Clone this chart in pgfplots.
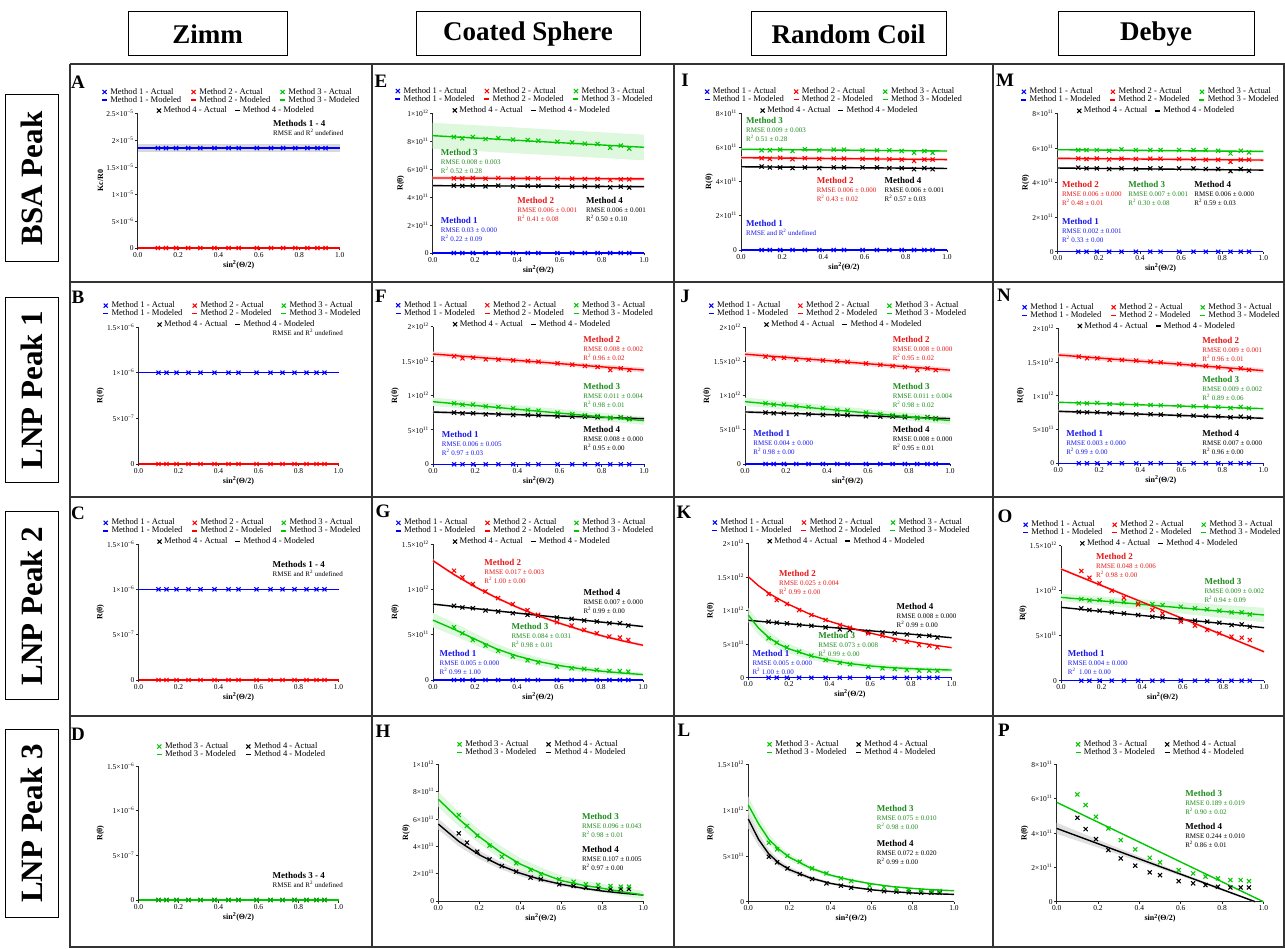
\documentclass[border=0pt]{standalone}
\usepackage{fontspec}
\setmainfont{Liberation Serif}
\usepackage{pgfplots}
\pgfplotsset{compat=1.18}
\usepackage{pgfplotstable}

\definecolor{c1}{RGB}{0,0,255}
\definecolor{c2}{RGB}{255,0,0}
\definecolor{c3}{RGB}{0,200,0}
\definecolor{c4}{RGB}{0,0,0}
\definecolor{t1}{RGB}{25,25,235}
\definecolor{t2}{RGB}{230,25,25}
\definecolor{t3}{RGB}{30,140,30}

\pgfplotsset{legend image code/.code={\draw[mark repeat=2,mark phase=2,#1] plot coordinates {(1pt,0pt) (3.5pt,0pt) (6pt,0pt)};}}

\pgfplotsset{
 geom/.style n args={4}{at={(#1pt,948pt-#2pt)}, anchor=south west, width=#3pt, height=#4pt},
 mk/.style={only marks, mark=x, mark size=2.9pt, mark options={line width=1.05pt}},
 ln/.style={line width=1.4pt},
 base/.style={
  scale only axis,
  xmin=0, xmax=1, ymin=0,
  axis lines=left,
  axis line style={-, line width=1pt, black!85},
  xtick={0,0.2,0.4,0.6,0.8,1}, xticklabels={0.0,0.2,0.4,0.6,0.8,1.0},
  tick align=outside, major tick length=2.5pt,
  tick style={line width=0.8pt, black!85},
  ticklabel style={font=\fontsize{7.5}{8}\selectfont, inner sep=1.5pt},
  xlabel={sin\textsuperscript{2}(Θ/2)},
  ylabel={R(θ)},
  label style={font=\bfseries\fontsize{8}{9}\selectfont},
  xlabel style={yshift=2pt},
  ylabel style={yshift=-2pt},
  clip=false,
  legend cell align=left,
  legend style={draw=none, fill=none, inner sep=0pt, outer sep=0pt,
    font=\fontsize{8.6}{8.6}\selectfont,
    nodes={inner sep=0.1pt, text height=6pt, text depth=1.8pt},
    /tikz/every odd column/.append style={column sep=2.5pt},
    /tikz/every even column/.append style={column sep=9pt}},
 },
 leg3/.style={legend columns=3, legend style={at={(-0.18,1.185)}, anchor=north west}},
 leg2/.style={legend columns=2, legend style={at={(0.088,1.175)}, anchor=north west}},
 ya/.style={ymax=2.5, ytick={0,0.5,1,1.5,2,2.5}, yticklabels={0,5×10\textsuperscript{−6},1×10\textsuperscript{−5},1.5×10\textsuperscript{−5},2×10\textsuperscript{−5},2.5×10\textsuperscript{−5}}},
 yb/.style={ymax=1.5, ytick={0,0.5,1,1.5}, yticklabels={0,5×10\textsuperscript{−7},1×10\textsuperscript{−6},1.5×10\textsuperscript{−6}}},
 yten/.style={ymax=10, ytick={0,2,4,6,8,10}, yticklabels={0,2×10\textsuperscript{11},4×10\textsuperscript{11},6×10\textsuperscript{11},8×10\textsuperscript{11},1×10\textsuperscript{12}}},
 yeight/.style={ymax=8, ytick={0,2,4,6,8}, yticklabels={0,2×10\textsuperscript{11},4×10\textsuperscript{11},6×10\textsuperscript{11},8×10\textsuperscript{11}}},
 ytwo/.style={ymax=2, ytick={0,0.5,1,1.5,2}, yticklabels={0,5×10\textsuperscript{11},1×10\textsuperscript{12},1.5×10\textsuperscript{12},2×10\textsuperscript{12}}},
 yonefive/.style={ymax=1.5, ytick={0,0.5,1,1.5}, yticklabels={0,5×10\textsuperscript{11},1×10\textsuperscript{12},1.5×10\textsuperscript{12}}},
}

\newcommand{\pts}[3]{\addplot[mk, #3, forget plot] table[x=x,y=#2]{#1};}
\newcommand{\mdl}[3]{\addplot[#3, line width=1.4pt, forget plot] table[x=x,y=#2]{#1};}
\newcommand{\poly}[2]{\addplot[fill=#1, draw=none, forget plot] coordinates {#2} -- cycle;}
\newcommand{\ann}[6]{\node[anchor=north west, align=left, inner sep=0pt, text=#3, font=\fontsize{7}{9}\selectfont] at (axis cs:#1,#2) {{\bfseries\fontsize{9}{9}\selectfont #4}\\#5\\#6};}
\newcommand{\annb}[5]{\node[anchor=north west, align=left, inner sep=0pt, text=#3, font=\fontsize{7}{9}\selectfont] at (axis cs:#1,#2) {{\bfseries\fontsize{9}{9}\selectfont #4}\\#5};}
\newcommand{\legthree}{%
 \addlegendimage{mk,c1}\addlegendentry{Method 1 - Actual}
 \addlegendimage{mk,c2}\addlegendentry{Method 2 - Actual}
 \addlegendimage{mk,c3}\addlegendentry{Method 3 - Actual}
 \addlegendimage{ln,c1}\addlegendentry{Method 1 - Modeled}
 \addlegendimage{ln,c2}\addlegendentry{Method 2 - Modeled}
 \addlegendimage{ln,c3}\addlegendentry{Method 3 - Modeled}}
\newcommand{\legtwo}{%
 \addlegendimage{mk,c3}\addlegendentry{Method 3 - Actual}
 \addlegendimage{mk,c4}\addlegendentry{Method 4 - Actual}
 \addlegendimage{ln,c3}\addlegendentry{Method 3 - Modeled}
 \addlegendimage{ln,c4}\addlegendentry{Method 4 - Modeled}}
\newcommand{\rowthree}[4]{%
 \begin{axis}[base, geom={#1}{#2}{#3}{#4}, hide axis, ymax=1, legend columns=2,
   legend style={at={(0.095,1.047)}, anchor=north west, /tikz/every even column/.append style={column sep=7pt}}]
 \addplot[draw=none, forget plot] coordinates {(0,0) (1,1)};
 \addlegendimage{mk,c4}\addlegendentry{Method 4 - Actual}
 \addlegendimage{ln,c4}\addlegendentry{Method 4 - Modeled}
 \end{axis}}
\newcommand{\Rsq}{R\textsuperscript{2}}

% ---------------- data ----------------
\pgfplotstableread{
x m1 m2
0.10 1.85 0
0.14 1.85 0
0.19 1.85 0
0.25 1.85 0
0.31 1.85 0
0.38 1.85 0
0.45 1.85 0
0.50 1.85 0
0.59 1.85 0
0.66 1.85 0
0.72 1.85 0
0.78 1.85 0
0.84 1.85 0
0.89 1.85 0
0.93 1.85 0
}\Ad
\pgfplotstableread{
x m1 m2
0 1.85 0
1 1.85 0
}\Am
\pgfplotstableread{
x m1 m2
0.10 1 0
0.14 1 0
0.19 1 0
0.25 1 0
0.31 1 0
0.38 1 0
0.45 1 0
0.50 1 0
0.59 1 0
0.66 1 0
0.72 1 0
0.78 1 0
0.84 1 0
0.89 1 0
0.93 1 0
}\Bd
\pgfplotstableread{
x m1 m2
0 1 0
1 1 0
}\Bm
\pgfplotstableread{
x m1 m2 m3 m4
0.10 0 5.33 8.29 4.81
0.14 0 5.33 8.19 4.79
0.19 0 5.36 8.29 4.81
0.25 0 5.31 8.14 4.76
0.31 0 5.36 8.21 4.81
0.38 0 5.33 8.10 4.76
0.45 0 5.33 8.07 4.79
0.50 0 5.33 8.02 4.79
0.59 0 5.31 7.95 4.76
0.66 0 5.31 7.90 4.76
0.72 0 5.29 7.81 4.76
0.78 0 5.29 7.79 4.76
0.84 0 5.21 7.52 4.69
0.89 0 5.26 7.67 4.74
0.93 0 5.26 7.45 4.67
}\Ed
\pgfplotstableread{
x m1 m2 m3 m4
0 0 5.36 8.38 4.81
1 0 5.29 7.55 4.74
}\Em
\pgfplotstableread{
x m1 m2 m3 m4
0.10 0 1.569 0.886 0.751
0.14 0 1.540 0.867 0.741
0.19 0 1.550 0.867 0.741
0.25 0 1.525 0.843 0.726
0.31 0 1.521 0.833 0.726
0.38 0 1.511 0.814 0.717
0.45 0 1.501 0.789 0.717
0.50 0 1.492 0.780 0.712
0.59 0 1.467 0.751 0.697
0.66 0 1.448 0.731 0.692
0.72 0 1.429 0.712 0.692
0.78 0 1.414 0.702 0.683
0.84 0 1.370 0.673 0.673
0.89 0 1.395 0.683 0.683
0.93 0 1.370 0.654 0.663
}\Fd
\pgfplotstableread{
x m1 m2 m3 m4
0 0 1.603 0.910 0.760
1 0 1.370 0.634 0.663
}\Fm
\pgfplotstableread{
x m1 m2 m3 m4
0.10 0 1.205 0.582 0.818
0.14 0 1.132 0.516 0.800
0.19 0 1.058 0.442 0.792
0.25 0 0.977 0.380 0.767
0.31 0 0.903 0.321 0.756
0.38 0 0.837 0.258 0.737
0.45 0 0.770 0.217 0.719
0.50 0 0.719 0.195 0.711
0.59 0 0.638 0.147 0.689
0.66 0 0.601 0.129 0.675
0.72 0 0.553 0.122 0.656
0.78 0 0.516 0.111 0.645
0.84 0 0.479 0.100 0.627
0.89 0 0.468 0.100 0.627
0.93 0 0.442 0.092 0.601
}\Gd
\pgfplotstableread{
x m1 m2 m3 m4
0.0 0 1.316 0.660 0.837
0.1 0 1.163 0.560 0.812
0.2 0 1.028 0.450 0.788
0.3 0 0.909 0.345 0.763
0.4 0 0.803 0.265 0.738
0.5 0 0.710 0.205 0.714
0.6 0 0.628 0.160 0.689
0.7 0 0.555 0.125 0.664
0.8 0 0.490 0.098 0.639
0.9 0 0.433 0.077 0.615
1.0 0 0.383 0.060 0.590
}\Gm
\pgfplotstableread{
x m3 m4
0.10 6.29 4.95
0.14 5.49 4.27
0.19 4.78 3.61
0.25 4.05 3.05
0.31 3.24 2.56
0.38 2.76 2.15
0.45 2.27 1.71
0.50 1.95 1.59
0.59 1.59 1.22
0.66 1.41 1.10
0.72 1.22 0.98
0.78 1.17 0.93
0.84 1.10 0.88
0.89 1.05 0.88
0.93 1.05 0.88
}\Hd
\pgfplotstableread{
x m3 m4
0.0 7.44 5.63
0.1 6.00 4.36
0.2 4.70 3.38
0.3 3.60 2.62
0.4 2.70 2.03
0.5 2.05 1.57
0.6 1.49 1.22
0.7 1.17 0.95
0.8 0.93 0.73
0.9 0.67 0.57
1.0 0.44 0.44
}\Hm
\pgfplotstableread{
x m1 m2 m3 m4
0.10 0 5.36 5.82 4.87
0.14 0 5.32 5.82 4.82
0.19 0 5.38 5.86 4.82
0.25 0 5.30 5.78 4.78
0.31 0 5.36 5.88 4.82
0.38 0 5.32 5.82 4.78
0.45 0 5.34 5.86 4.82
0.50 0 5.34 5.86 4.82
0.59 0 5.32 5.82 4.82
0.66 0 5.32 5.82 4.82
0.72 0 5.30 5.82 4.78
0.78 0 5.28 5.78 4.78
0.84 0 5.20 5.68 4.72
0.89 0 5.28 5.78 4.78
0.93 0 5.28 5.68 4.72
}\Id
\pgfplotstableread{
x m1 m2 m3 m4
0 0 5.39 5.88 4.86
1 0 5.28 5.78 4.76
}\Im
\pgfplotstableread{
x m1 m2 m3 m4
0.10 0 1.246 0.586 0.834
0.14 0 1.156 0.521 0.819
0.19 0 1.097 0.452 0.809
0.25 0 1.007 0.387 0.784
0.31 0 0.933 0.328 0.774
0.38 0 0.859 0.263 0.749
0.45 0 0.784 0.223 0.720
0.50 0 0.744 0.203 0.710
0.59 0 0.660 0.164 0.685
0.66 0 0.625 0.139 0.675
0.72 0 0.561 0.129 0.660
0.78 0 0.536 0.114 0.645
0.84 0 0.486 0.104 0.625
0.89 0 0.476 0.104 0.625
0.93 0 0.452 0.104 0.600
}\Kd
\pgfplotstableread{
x m1 m2 m3 m4
0.00 0 1.504 0.933 0.854
0.05 0 1.370 0.740 0.841
0.10 0 1.260 0.600 0.828
0.15 0 1.170 0.500 0.815
0.20 0 1.090 0.430 0.802
0.30 0 0.950 0.330 0.776
0.40 0 0.840 0.260 0.750
0.50 0 0.745 0.210 0.725
0.60 0 0.665 0.175 0.699
0.70 0 0.595 0.150 0.673
0.80 0 0.540 0.135 0.648
0.90 0 0.490 0.122 0.622
1.00 0 0.447 0.114 0.596
}\Km
\pgfplotstableread{
x m3 m4
0.10 0.644 0.491
0.14 0.572 0.430
0.19 0.502 0.364
0.25 0.437 0.302
0.31 0.364 0.248
0.38 0.309 0.200
0.45 0.255 0.175
0.50 0.226 0.153
0.59 0.175 0.127
0.66 0.157 0.116
0.72 0.138 0.109
0.78 0.127 0.102
0.84 0.120 0.098
0.89 0.116 0.098
0.93 0.116 0.098
}\Ld
\pgfplotstableread{
x m3 m4
0.00 1.056 0.903
0.05 0.850 0.680
0.10 0.680 0.520
0.15 0.570 0.420
0.20 0.485 0.350
0.30 0.370 0.260
0.40 0.290 0.200
0.50 0.235 0.160
0.60 0.195 0.130
0.70 0.165 0.110
0.80 0.145 0.095
0.90 0.130 0.087
1.00 0.120 0.080
}\Lm
\pgfplotstableread{
x m1 m2 m3 m4
0.10 0 5.39 5.88 4.86
0.14 0 5.36 5.88 4.82
0.19 0 5.39 5.88 4.82
0.25 0 5.34 5.84 4.78
0.31 0 5.38 5.92 4.82
0.38 0 5.36 5.88 4.78
0.45 0 5.38 5.88 4.82
0.50 0 5.38 5.88 4.82
0.59 0 5.36 5.88 4.82
0.66 0 5.36 5.88 4.82
0.72 0 5.32 5.88 4.78
0.78 0 5.32 5.84 4.78
0.84 0 5.20 5.68 4.66
0.89 0 5.32 5.84 4.78
0.93 0 5.32 5.74 4.68
}\Md
\pgfplotstableread{
x m1 m2 m3 m4
0 0 5.40 5.90 4.84
1 0 5.30 5.80 4.72
}\Mm
\pgfplotstableread{
x m1 m2 m3 m4
0.10 0 1.580 0.889 0.760
0.14 0 1.556 0.889 0.756
0.19 0 1.556 0.894 0.756
0.25 0 1.531 0.879 0.741
0.31 0 1.531 0.879 0.741
0.38 0 1.521 0.869 0.726
0.45 0 1.506 0.864 0.726
0.50 0 1.496 0.859 0.721
0.59 0 1.472 0.849 0.711
0.66 0 1.457 0.844 0.706
0.72 0 1.442 0.840 0.701
0.78 0 1.422 0.835 0.696
0.84 0 1.383 0.820 0.681
0.89 0 1.407 0.835 0.691
0.93 0 1.383 0.815 0.677
}\Nd
\pgfplotstableread{
x m1 m2 m3 m4
0 0 1.605 0.904 0.770
1 0 1.373 0.810 0.667
}\Nm
\pgfplotstableread{
x m1 m2 m3 m4
0.10 0 1.219 0.907 0.804
0.14 0 1.144 0.893 0.785
0.19 0 1.081 0.896 0.778
0.25 0 1.000 0.878 0.759
0.31 0 0.922 0.874 0.748
0.38 0 0.848 0.859 0.730
0.45 0 0.785 0.852 0.711
0.50 0 0.748 0.841 0.704
0.59 0 0.656 0.822 0.681
0.66 0 0.611 0.804 0.667
0.72 0 0.563 0.793 0.656
0.78 0 0.526 0.778 0.644
0.84 0 0.489 0.759 0.619
0.89 0 0.478 0.759 0.626
0.93 0 0.452 0.737 0.600
}\Od
\pgfplotstableread{
x m1 m2 m3 m4
0 0 1.241 0.926 0.815
1 0 0.322 0.730 0.589
}\Om
\pgfplotstableread{
x m3 m4
0.10 6.25 4.89
0.14 5.63 4.23
0.19 4.95 3.65
0.25 4.27 3.01
0.31 3.59 2.52
0.38 3.05 2.10
0.45 2.56 1.71
0.50 2.29 1.55
0.59 1.84 1.20
0.66 1.65 1.07
0.72 1.46 0.97
0.78 1.36 0.87
0.84 1.26 0.83
0.89 1.26 0.83
0.93 1.20 0.83
}\Pd
\pgfplotstableread{
x m3 m4
0.00 5.79 4.27
0.96 0.232 0.00
}\Pm

\begin{document}
\begin{tikzpicture}
\path[use as bounding box] (0pt,0pt) rectangle (1285pt,948pt);

% ---- grid ----
\begin{scope}[line width=1.6pt, black!80]
\draw (70pt,948pt-64pt) -- (1285pt,948pt-64pt);
\draw (70pt,948pt-282pt) -- (1285pt,948pt-282pt);
\draw (70pt,948pt-497pt) -- (1285pt,948pt-497pt);
\draw (70pt,948pt-716pt) -- (1285pt,948pt-716pt);
\draw (70pt,948pt-947pt) -- (1285pt,948pt-947pt);
\draw (70pt,948pt-64pt) -- (70pt,0pt);
\draw (372pt,948pt-64pt) -- (372pt,0pt);
\draw (674pt,948pt-64pt) -- (674pt,0pt);
\draw (993pt,948pt-64pt) -- (993pt,0pt);
\draw (1284pt,948pt-64pt) -- (1284pt,0pt);
\end{scope}

% ---- headers ----
\begin{scope}[every node/.style={draw, line width=1pt, minimum height=44pt, font=\bfseries\fontsize{27}{30}\selectfont}]
\node[minimum width=159pt] at (207.5pt,948pt-34pt) {Zimm};
\node[minimum width=224pt] at (528pt,948pt-34pt) {Coated Sphere};
\node[minimum width=195pt] at (848.5pt,948pt-34pt) {Random Coil};
\node[minimum width=196pt] at (1156pt,948pt-34pt) {Debye};
\end{scope}
\begin{scope}[every node/.style={draw, line width=1pt, rotate=90, minimum height=53pt, font=\bfseries\fontsize{31}{33}\selectfont}]
\node[minimum width=167pt] at (31.5pt,948pt-178.5pt) {BSA Peak};
\node[minimum width=185pt] at (31.5pt,948pt-390pt) {LNP Peak 1};
\node[minimum width=188pt] at (31.5pt,948pt-606pt) {LNP Peak 2};
\node[minimum width=188pt] at (31.5pt,948pt-823.5pt) {LNP Peak 3};
\end{scope}
\begin{scope}[every node/.style={font=\bfseries\fontsize{19}{20}\selectfont, inner sep=0pt}]
\node at (78pt,948pt-82pt) {A};
\node at (381pt,948pt-81pt) {E};
\node at (685pt,948pt-80pt) {I};
\node at (1005pt,948pt-80pt) {M};
\node at (78pt,948pt-297pt) {B};
\node at (381pt,948pt-296pt) {F};
\node at (685pt,948pt-296pt) {J};
\node at (1004pt,948pt-295pt) {N};
\node at (78pt,948pt-513pt) {C};
\node at (383pt,948pt-511pt) {G};
\node at (684pt,948pt-512pt) {K};
\node at (1005pt,948pt-516pt) {O};
\node at (78pt,948pt-734pt) {D};
\node at (383pt,948pt-731pt) {H};
\node at (684pt,948pt-730pt) {L};
\node at (1004pt,948pt-730pt) {P};
\end{scope}

% ===== A =====
\begin{axis}[base, geom={137.7}{248}{202}{135}, ya, leg3, ylabel={Kc/R0}]
\poly{black!15}{(0,1.77) (1,1.77) (1,1.93) (0,1.93)}
\mdl{\Am}{m2}{c2}\mdl{\Am}{m1}{c1}
\pts{\Ad}{m2}{c2}\pts{\Ad}{m1}{c1}
\annb{0.67}{2.36}{black}{Methods 1 - 4}{RMSE and \Rsq{} undefined}
\legthree
\end{axis}
\rowthree{137.7}{248}{202}{135}

% ===== B =====
\begin{axis}[base, geom={138.5}{464}{200}{137}, yb, leg3]
\mdl{\Bm}{m2}{c2}\mdl{\Bm}{m1}{c1}
\pts{\Bd}{m2}{c2}\pts{\Bd}{m1}{c1}
\node[anchor=north west, inner sep=0pt, font=\fontsize{7}{9}\selectfont] at (axis cs:0.67,1.48) {RMSE and \Rsq{} undefined};
\legthree
\end{axis}
\rowthree{138.5}{464}{200}{137}

% ===== C =====
\begin{axis}[base, geom={138.5}{680}{200}{136}, yb, leg3]
\mdl{\Bm}{m2}{c2}\mdl{\Bm}{m1}{c1}
\pts{\Bd}{m2}{c2}\pts{\Bd}{m1}{c1}
\annb{0.67}{1.31}{black}{Methods 1 - 4}{RMSE and \Rsq{} undefined}
\legthree
\end{axis}
\rowthree{138.5}{680}{200}{136}

% ===== D =====
\begin{axis}[base, geom={138.5}{900}{200}{134}, yb, leg2]
\mdl{\Bm}{m2}{c4}\mdl{\Bm}{m2}{c3}
\pts{\Bd}{m2}{c4}\pts{\Bd}{m2}{c3}
\annb{0.67}{0.313}{black}{Methods 3 - 4}{RMSE and \Rsq{} undefined}
\legtwo
\end{axis}

% ===== E =====
\begin{axis}[base, geom={432.7}{253}{211.3}{140}, yten, leg3]
\poly{c2!15}{(0,5.24) (1,5.17) (1,5.41) (0,5.48)}
\poly{c3!13}{(0,7.45) (1,6.62) (1,8.45) (0,9.30)}
\poly{black!12}{(0,4.75) (1,4.68) (1,4.80) (0,4.87)}
\mdl{\Em}{m1}{c1}\mdl{\Em}{m4}{c4}\mdl{\Em}{m2}{c2}\mdl{\Em}{m3}{c3}
\pts{\Ed}{m1}{c1}\pts{\Ed}{m4}{c4}\pts{\Ed}{m2}{c2}\pts{\Ed}{m3}{c3}
\ann{0.038}{7.43}{t3}{Method 3}{RMSE 0.008 ± 0.003}{\Rsq{} 0.52 ± 0.28}
\ann{0.40}{4.0}{t2}{Method 2}{RMSE 0.006 ± 0.001}{\Rsq{} 0.41 ± 0.08}
\ann{0.725}{4.0}{black}{Method 4}{RMSE 0.006 ± 0.001}{\Rsq{} 0.50 ± 0.10}
\ann{0.038}{2.54}{t1}{Method 1}{RMSE 0.03 ± 0.000}{\Rsq{} 0.22 ± 0.09}
\legthree
\end{axis}
\rowthree{432.7}{253}{211.3}{140}

% ===== F =====
\begin{axis}[base, geom={433}{464.3}{211}{137.6}, ytwo, leg3]
\poly{c2!15}{(0,1.568) (1,1.335) (1,1.405) (0,1.638)}
\poly{c3!13}{(0,0.85) (1,0.574) (1,0.694) (0,0.97)}
\poly{black!12}{(0,0.74) (1,0.643) (1,0.683) (0,0.78)}
\mdl{\Fm}{m1}{c1}\mdl{\Fm}{m4}{c4}\mdl{\Fm}{m2}{c2}\mdl{\Fm}{m3}{c3}
\pts{\Fd}{m1}{c1}\pts{\Fd}{m4}{c4}\pts{\Fd}{m2}{c2}\pts{\Fd}{m3}{c3}
\ann{0.712}{1.865}{t2}{Method 2}{RMSE 0.008 ± 0.002}{\Rsq{} 0.96 ± 0.02}
\ann{0.712}{1.186}{t3}{Method 3}{RMSE 0.011 ± 0.004}{\Rsq{} 0.98 ± 0.01}
\ann{0.712}{0.561}{black}{Method 4}{RMSE 0.008 ± 0.000}{\Rsq{} 0.95 ± 0.00}
\ann{0.041}{0.488}{t1}{Method 1}{RMSE 0.006 ± 0.005}{\Rsq{} 0.97 ± 0.03}
\legthree
\end{axis}
\rowthree{433}{464.3}{211}{137.6}

% ===== G =====
\begin{axis}[base, geom={433}{680}{210}{136}, yonefive, leg3]
\poly{c2!15}{(0,1.301) (0.1,1.148) (0.2,1.013) (0.3,0.894) (0.4,0.788) (0.5,0.695) (0.6,0.613) (0.7,0.540) (0.8,0.475) (0.9,0.418) (1,0.368) (1,0.398) (0.9,0.448) (0.8,0.505) (0.7,0.570) (0.6,0.643) (0.5,0.725) (0.4,0.818) (0.3,0.924) (0.2,1.043) (0.1,1.178) (0,1.331)}
\poly{c3!13}{(0,0.58) (0.1,0.49) (0.2,0.385) (0.3,0.29) (0.4,0.215) (0.5,0.16) (0.6,0.12) (0.7,0.09) (0.8,0.07) (0.9,0.053) (1,0.04) (1,0.08) (0.9,0.101) (0.8,0.126) (0.7,0.16) (0.6,0.2) (0.5,0.25) (0.4,0.315) (0.3,0.40) (0.2,0.515) (0.1,0.63) (0,0.74)}
\poly{black!12}{(0,0.827) (1,0.58) (1,0.60) (0,0.847)}
\mdl{\Gm}{m1}{c1}\mdl{\Gm}{m4}{c4}\mdl{\Gm}{m2}{c2}\mdl{\Gm}{m3}{c3}
\pts{\Gd}{m1}{c1}\pts{\Gd}{m4}{c4}\pts{\Gd}{m2}{c2}\pts{\Gd}{m3}{c3}
\ann{0.244}{1.335}{t2}{Method 2}{RMSE 0.017 ± 0.003}{\Rsq{} 1.00 ± 0.00}
\ann{0.716}{1.004}{black}{Method 4}{RMSE 0.007 ± 0.000}{\Rsq{} 0.99 ± 0.00}
\ann{0.373}{0.625}{t3}{Method 3}{RMSE 0.084 ± 0.031}{\Rsq{} 0.98 ± 0.01}
\ann{0.031}{0.331}{t1}{Method 1}{RMSE 0.005 ± 0.000}{\Rsq{} 0.99 ± 1.00}
\legthree
\end{axis}
\rowthree{433}{680}{210}{136}

% ===== H =====
\begin{axis}[base, geom={438.3}{901}{205}{136.7}, yten, leg2]
\poly{c3!13}{(0,6.89) (0.1,5.47) (0.2,4.2) (0.3,3.13) (0.4,2.26) (0.5,1.64) (0.6,1.11) (0.7,0.81) (0.8,0.6) (0.9,0.36) (1,0.14) (1,0.74) (0.9,0.98) (0.8,1.26) (0.7,1.53) (0.6,1.87) (0.5,2.46) (0.4,3.14) (0.3,4.07) (0.2,5.2) (0.1,6.53) (0,7.99)}
\poly{black!12}{(0,5.23) (0.1,4.0) (0.2,3.07) (0.3,2.35) (0.4,1.81) (0.5,1.39) (0.6,1.08) (0.7,0.84) (0.8,0.65) (0.9,0.51) (1,0.39) (1,0.49) (0.9,0.63) (0.8,0.81) (0.7,1.06) (0.6,1.36) (0.5,1.75) (0.4,2.25) (0.3,2.89) (0.2,3.69) (0.1,4.72) (0,6.03)}
\mdl{\Hm}{m4}{c4}\mdl{\Hm}{m3}{c3}
\pts{\Hd}{m4}{c4}\pts{\Hd}{m3}{c3}
\ann{0.70}{6.42}{t3}{Method 3}{RMSE 0.096 ± 0.043}{\Rsq{} 0.98 ± 0.01}
\ann{0.70}{4.02}{black}{Method 4}{RMSE 0.107 ± 0.005}{\Rsq{} 0.97 ± 0.00}
\legtwo
\end{axis}

% ===== I =====
\begin{axis}[base, geom={741}{250}{206}{137}, yeight, leg3]
\poly{c2!15}{(0,5.31) (1,5.20) (1,5.36) (0,5.47)}
\poly{c3!13}{(0,5.83) (1,5.73) (1,5.83) (0,5.93)}
\poly{black!12}{(0,4.82) (1,4.72) (1,4.80) (0,4.90)}
\mdl{\Im}{m1}{c1}\mdl{\Im}{m4}{c4}\mdl{\Im}{m2}{c2}\mdl{\Im}{m3}{c3}
\pts{\Id}{m1}{c1}\pts{\Id}{m4}{c4}\pts{\Id}{m2}{c2}\pts{\Id}{m3}{c3}
\ann{0.024}{7.79}{t3}{Method 3}{RMSE 0.009 ± 0.003}{\Rsq{} 0.51 ± 0.28}
\ann{0.367}{4.25}{t2}{Method 2}{RMSE 0.006 ± 0.000}{\Rsq{} 0.43 ± 0.02}
\ann{0.696}{4.25}{black}{Method 4}{RMSE 0.006 ± 0.001}{\Rsq{} 0.57 ± 0.03}
\annb{0.024}{1.75}{t1}{Method 1}{RMSE and \Rsq{} undefined}
\legthree
\end{axis}
\rowthree{741}{250}{206}{137}

% ===== J =====
\begin{axis}[base, geom={745}{464}{205}{137}, ytwo, leg3]
\poly{c2!15}{(0,1.568) (1,1.335) (1,1.405) (0,1.638)}
\poly{c3!13}{(0,0.85) (1,0.574) (1,0.694) (0,0.97)}
\poly{black!12}{(0,0.74) (1,0.643) (1,0.683) (0,0.78)}
\mdl{\Fm}{m1}{c1}\mdl{\Fm}{m4}{c4}\mdl{\Fm}{m2}{c2}\mdl{\Fm}{m3}{c3}
\pts{\Fd}{m1}{c1}\pts{\Fd}{m4}{c4}\pts{\Fd}{m2}{c2}\pts{\Fd}{m3}{c3}
\ann{0.72}{1.865}{t2}{Method 2}{RMSE 0.008 ± 0.000}{\Rsq{} 0.95 ± 0.02}
\ann{0.72}{1.186}{t3}{Method 3}{RMSE 0.011 ± 0.004}{\Rsq{} 0.98 ± 0.02}
\ann{0.72}{0.55}{black}{Method 4}{RMSE 0.008 ± 0.000}{\Rsq{} 0.95 ± 0.01}
\ann{0.04}{0.49}{t1}{Method 1}{RMSE 0.004 ± 0.000}{\Rsq{} 0.98 ± 0.00}
\legthree
\end{axis}
\rowthree{745}{464}{205}{137}

% ===== K =====
\begin{axis}[base, geom={748.3}{677.7}{203.3}{134.3}, ytwo, leg3]
\poly{c3!13}{(0,0.83) (0.05,0.64) (0.1,0.51) (0.15,0.42) (0.2,0.36) (0.3,0.27) (0.4,0.21) (0.5,0.165) (0.6,0.135) (0.7,0.112) (0.8,0.1) (0.9,0.09) (1,0.083) (1,0.145) (0.9,0.154) (0.8,0.17) (0.7,0.188) (0.6,0.215) (0.5,0.255) (0.4,0.31) (0.3,0.39) (0.2,0.5) (0.15,0.58) (0.1,0.69) (0.05,0.84) (0,1.04)}
\mdl{\Km}{m1}{c1}\mdl{\Km}{m4}{c4}\mdl{\Km}{m2}{c2}\mdl{\Km}{m3}{c3}
\pts{\Kd}{m1}{c1}\pts{\Kd}{m4}{c4}\pts{\Kd}{m2}{c2}\pts{\Kd}{m3}{c3}
\ann{0.151}{1.603}{t2}{Method 2}{RMSE 0.025 ± 0.004}{\Rsq{} 0.99 ± 0.00}
\ann{0.729}{1.107}{black}{Method 4}{RMSE 0.008 ± 0.000}{\Rsq{} 0.99 ± 0.00}
\ann{0.344}{0.685}{t3}{Method 3}{RMSE 0.073 ± 0.008}{\Rsq{} 0.99 ± 0.00}
\ann{0.02}{0.412}{t1}{Method 1}{RMSE 0.005 ± 0.000}{\Rsq{} 1.00 ± 0.00}
\legthree
\end{axis}
\rowthree{748.3}{677.7}{203.3}{134.3}

% ===== L =====
\begin{axis}[base, geom={748.3}{901.7}{205.7}{137.3}, yonefive, leg2]
\poly{c3!13}{(0,0.96) (0.05,0.77) (0.1,0.62) (0.15,0.525) (0.2,0.45) (0.3,0.345) (0.4,0.272) (0.5,0.222) (0.6,0.185) (0.7,0.157) (0.8,0.138) (0.9,0.124) (1,0.115) (1,0.125) (0.9,0.136) (0.8,0.152) (0.7,0.173) (0.6,0.205) (0.5,0.248) (0.4,0.308) (0.3,0.395) (0.2,0.52) (0.15,0.615) (0.1,0.74) (0.05,0.93) (0,1.15)}
\poly{black!12}{(0,0.8) (0.05,0.61) (0.1,0.47) (0.15,0.385) (0.2,0.32) (0.3,0.24) (0.4,0.187) (0.5,0.15) (0.6,0.122) (0.7,0.104) (0.8,0.09) (0.9,0.083) (1,0.076) (1,0.084) (0.9,0.091) (0.8,0.1) (0.7,0.116) (0.6,0.138) (0.5,0.17) (0.4,0.213) (0.3,0.28) (0.2,0.38) (0.15,0.455) (0.1,0.57) (0.05,0.75) (0,1.0)}
\mdl{\Lm}{m4}{c4}\mdl{\Lm}{m3}{c3}
\pts{\Ld}{m4}{c4}\pts{\Ld}{m3}{c3}
\ann{0.624}{1.057}{t3}{Method 3}{RMSE 0.075 ± 0.010}{\Rsq{} 0.98 ± 0.00}
\ann{0.624}{0.674}{black}{Method 4}{RMSE 0.072 ± 0.020}{\Rsq{} 0.99 ± 0.00}
\legtwo
\end{axis}

% ===== M =====
\begin{axis}[base, geom={1057.7}{251.7}{205.7}{138.3}, yeight, leg3]
\poly{c2!15}{(0,5.32) (1,5.22) (1,5.38) (0,5.48)}
\poly{c3!13}{(0,5.85) (1,5.75) (1,5.85) (0,5.95)}
\poly{black!12}{(0,4.80) (1,4.68) (1,4.76) (0,4.88)}
\mdl{\Mm}{m1}{c1}\mdl{\Mm}{m4}{c4}\mdl{\Mm}{m2}{c2}\mdl{\Mm}{m3}{c3}
\pts{\Md}{m1}{c1}\pts{\Md}{m4}{c4}\pts{\Md}{m2}{c2}\pts{\Md}{m3}{c3}
\ann{0.02}{4.09}{t2}{Method 2}{RMSE 0.006 ± 0.000}{\Rsq{} 0.48 ± 0.01}
\ann{0.343}{4.09}{t3}{Method 3}{RMSE 0.007 ± 0.001}{\Rsq{} 0.30 ± 0.08}
\ann{0.664}{4.09}{black}{Method 4}{RMSE 0.006 ± 0.000}{\Rsq{} 0.59 ± 0.03}
\ann{0.02}{1.93}{t1}{Method 1}{RMSE 0.002 ± 0.001}{\Rsq{} 0.33 ± 0.00}
\legthree
\end{axis}
\rowthree{1057.7}{251.7}{205.7}{138.3}

% ===== N =====
\begin{axis}[base, geom={1058.3}{463.3}{205}{135}, ytwo, leg3]
\poly{c2!15}{(0,1.57) (1,1.338) (1,1.408) (0,1.64)}
\poly{c3!13}{(0,0.894) (1,0.8) (1,0.82) (0,0.914)}
\poly{black!12}{(0,0.75) (1,0.647) (1,0.687) (0,0.79)}
\mdl{\Nm}{m1}{c1}\mdl{\Nm}{m4}{c4}\mdl{\Nm}{m2}{c2}\mdl{\Nm}{m3}{c3}
\pts{\Nd}{m1}{c1}\pts{\Nd}{m4}{c4}\pts{\Nd}{m2}{c2}\pts{\Nd}{m3}{c3}
\ann{0.702}{1.876}{t2}{Method 2}{RMSE 0.009 ± 0.001}{\Rsq{} 0.96 ± 0.01}
\ann{0.702}{1.293}{t3}{Method 3}{RMSE 0.009 ± 0.002}{\Rsq{} 0.89 ± 0.06}
\ann{0.702}{0.493}{black}{Method 4}{RMSE 0.007 ± 0.000}{\Rsq{} 0.96 ± 0.00}
\ann{0.038}{0.493}{t1}{Method 1}{RMSE 0.003 ± 0.000}{\Rsq{} 0.99 ± 0.00}
\legthree
\end{axis}
\rowthree{1058.3}{463.3}{205}{135}

% ===== O =====
\begin{axis}[base, geom={1061}{680.7}{203}{135}, yonefive, leg3, legend style={at={(-0.19,1.185)}}]
\poly{c2!15}{(0,1.228) (1,0.309) (1,0.335) (0,1.254)}
\poly{c3!13}{(0,0.886) (1,0.65) (1,0.81) (0,0.966)}
\mdl{\Om}{m1}{c1}\mdl{\Om}{m4}{c4}\mdl{\Om}{m3}{c3}\mdl{\Om}{m2}{c2}
\pts{\Od}{m1}{c1}\pts{\Od}{m4}{c4}\pts{\Od}{m3}{c3}\pts{\Od}{m2}{c2}
\ann{0.172}{1.416}{t2}{Method 2}{RMSE 0.048 ± 0.006}{\Rsq{} 0.98 ± 0.00}
\ann{0.706}{1.144}{t3}{Method 3}{RMSE 0.009 ± 0.002}{\Rsq{} 0.94 ± 0.09}
\ann{0.033}{0.341}{t1}{Method 1}{RMSE 0.004 ± 0.000}{\Rsq{}\ \ 1.00 ± 0.00}
\legthree
\end{axis}
\rowthree{1061}{680.7}{203}{135}

% ===== P =====
\begin{axis}[base, geom={1056.7}{901.7}{206.7}{137.3}, yeight, leg2]
\poly{black!12}{(0,3.95) (0.3,2.75) (0.6,1.5) (0.96,-0.05) (0.96,0.05) (0.6,1.7) (0.3,3.12) (0,4.6)}
\mdl{\Pm}{m4}{c4}
\addplot[c3, line width=1.4pt, forget plot] coordinates {(0,5.79) (1,0)};
\pts{\Pd}{m4}{c4}\pts{\Pd}{m3}{c3}
\ann{0.621}{6.53}{t3}{Method 3}{RMSE 0.189 ± 0.019}{\Rsq{} 0.90 ± 0.02}
\ann{0.621}{4.56}{black}{Method 4}{RMSE 0.244 ± 0.010}{\Rsq{} 0.86 ± 0.01}
\legtwo
\end{axis}

\end{tikzpicture}
\end{document}
